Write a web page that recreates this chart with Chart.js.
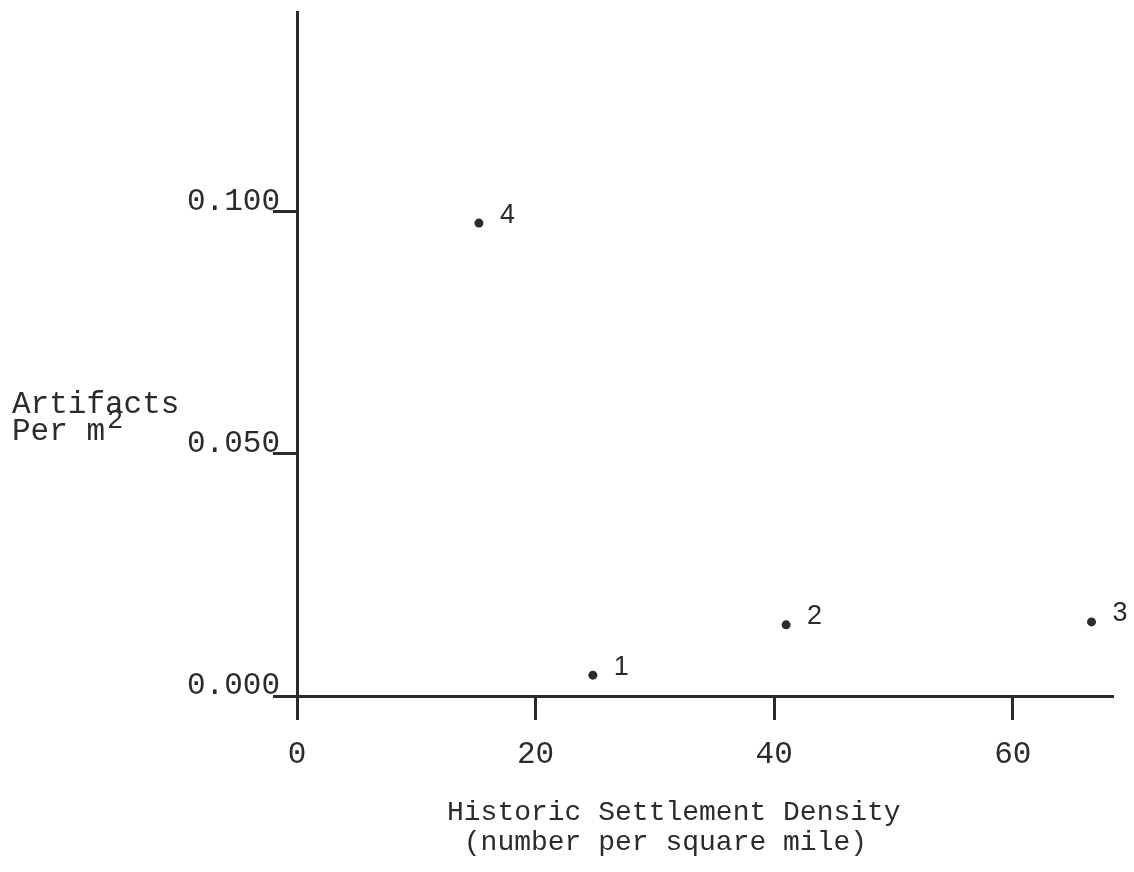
<!DOCTYPE html>
<html>
<head>
<meta charset="utf-8">
<script src="https://cdn.jsdelivr.net/npm/chart.js@4.4.1/dist/chart.umd.min.js"></script>
<style>
  html, body { margin: 0; padding: 0; background: #fff; }
  #wrap { width: 1134px; height: 872px; }
</style>
</head>
<body>
<div id="wrap"><canvas id="chart" width="1134" height="872"></canvas></div>
<script>
// Data
const pointLabels = ['1', '2', '3', '4'];
const densityValues = [24.8, 41.0, 66.6, 15.25];          // settlements per square mile
const artifactValues = [0.0043, 0.0147, 0.0153, 0.0977];  // artifacts per m2
const xTicks = [0, 20, 40, 60];
const yTicks = [0, 0.05, 0.1];
const xTitle = ['Historic Settlement Density', ' (number per square mile)'];

const ink = '#2b2b2b';
const mono = '"Liberation Mono", "Courier New", monospace';

// Point numbers and axis titles
const annotate = {
    id: 'annotate',
    afterDatasetsDraw(chart) {
        const ctx = chart.ctx;
        const area = chart.chartArea;
        const meta = chart.getDatasetMeta(0);
        ctx.save();
        ctx.fillStyle = ink;
        ctx.textBaseline = 'middle';

        ctx.font = '27px "Liberation Sans", Arial, sans-serif';
        ctx.textAlign = 'left';
        meta.data.forEach((pt, i) => {
            ctx.fillText(pointLabels[i], pt.x + 21, pt.y - 8);
        });

        // x axis title, two typed lines
        ctx.font = '28px ' + mono;
        ctx.fillText(xTitle[0], area.left + 150, 813);
        ctx.fillText(xTitle[1], area.left + 150, 843);

        // y axis title with raised 2
        ctx.font = '31px ' + mono;
        ctx.fillText('Artifacts', 12, 405);
        ctx.fillText('Per m', 12, 432);
        const w = ctx.measureText('Per m').width;
        ctx.font = '27px ' + mono;
        ctx.fillText('2', 12 + w + 2, 421);
        ctx.restore();
    }
};

new Chart(document.getElementById('chart'), {
    type: 'scatter',
    data: {
        datasets: [{
            data: densityValues.map((x, i) => ({ x: x, y: artifactValues[i] })),
            backgroundColor: ink,
            borderWidth: 0,
            pointRadius: 4.5,
            pointHoverRadius: 4.5
        }]
    },
    options: {
        responsive: false,
        animation: false,
        devicePixelRatio: 1,
        layout: { padding: { top: 12, right: 21, left: 0, bottom: 0 } },
        plugins: {
            legend: { display: false },
            tooltip: { enabled: false }
        },
        scales: {
            x: {
                type: 'linear',
                min: 0,
                max: 68.4,
                afterBuildTicks: scale => { scale.ticks = xTicks.map(v => ({ value: v })); },
                afterFit: scale => { scale.height = 872 - 696; },
                grid: {
                    drawOnChartArea: false,
                    drawTicks: true,
                    tickLength: 24,
                    tickWidth: 3,
                    tickColor: ink
                },
                border: { display: true, width: 3, color: ink },
                ticks: {
                    padding: 16,
                    color: ink,
                    font: { family: mono, size: 31 },
                    callback: v => String(v)
                }
            },
            y: {
                type: 'linear',
                min: 0,
                max: 0.1413,
                afterBuildTicks: scale => { scale.ticks = yTicks.map(v => ({ value: v })); },
                afterFit: scale => { scale.width = 297; },
                grid: {
                    drawOnChartArea: false,
                    drawTicks: true,
                    tickLength: 24,
                    tickWidth: 3,
                    tickColor: ink
                },
                border: { display: true, width: 3, color: ink },
                ticks: {
                    padding: -7,
                    labelOffset: -10,
                    color: ink,
                    font: { family: mono, size: 31 },
                    callback: v => v.toFixed(3)
                }
            }
        }
    },
    plugins: [annotate]
});
</script>
</body>
</html>
